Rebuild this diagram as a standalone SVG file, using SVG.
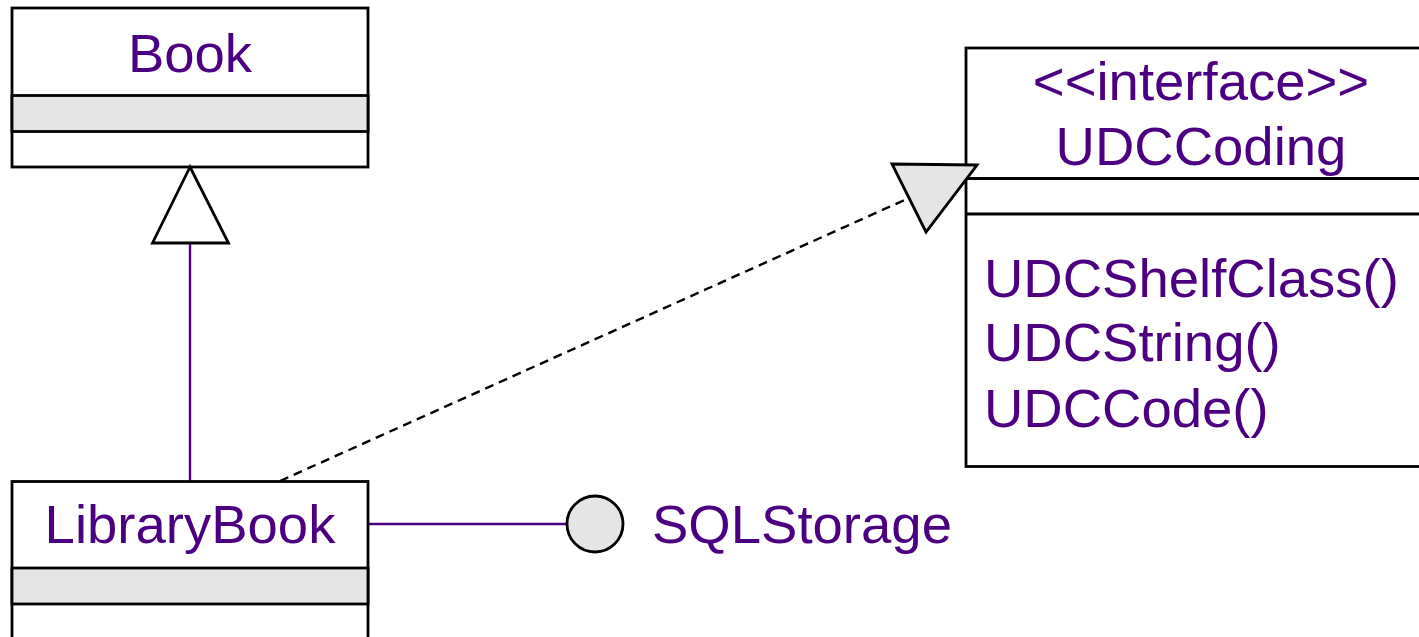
<svg xmlns="http://www.w3.org/2000/svg" width="1419" height="637" viewBox="0 0 1419 637">
<style>
.box{fill:#fff;stroke:#000;stroke-width:2.8}
.band{fill:#e5e5e5;stroke:#000;stroke-width:2.8}
.t{font-family:"Liberation Sans",Arial,sans-serif;font-size:54.5px;fill:#4b0082}
.c{text-anchor:middle}
.conn{stroke:#4b0082;stroke-width:2.4;fill:none}
</style>
<rect width="1419" height="637" fill="#fff"/>
<g id="connectors">
<line class="conn" x1="190" y1="243" x2="190" y2="481"/>
<line x1="280" y1="481" x2="909" y2="198" stroke="#000" stroke-width="2.4" stroke-dasharray="9,6"/>
<line class="conn" x1="368" y1="524" x2="567" y2="524"/>
</g>
<g id="Book">
<rect class="box" x="12" y="8" width="356" height="159"/>
<rect class="band" x="12" y="95.5" width="356" height="36"/>
<text class="t c" x="190" y="72">Book</text>
</g>
<g id="LibraryBook">
<rect class="box" x="12" y="481.5" width="356" height="170"/>
<rect class="band" x="12" y="568" width="356" height="36"/>
<text class="t c" x="190" y="543">LibraryBook</text>
</g>
<g id="UDCCoding">
<rect class="box" x="966" y="48" width="470" height="418.5"/>
<line x1="966" y1="178.5" x2="1436" y2="178.5" stroke="#000" stroke-width="2.8"/>
<line x1="966" y1="214" x2="1436" y2="214" stroke="#000" stroke-width="2.8"/>
<text class="t c" x="1201" y="100">&lt;&lt;interface&gt;&gt;</text>
<text class="t c" x="1201" y="165">UDCCoding</text>
<text class="t" x="984" y="297">UDCShelfClass()</text>
<text class="t" x="984" y="361">UDCString()</text>
<text class="t" x="984" y="427">UDCCode()</text>
</g>
<g id="SQLStorage">
<circle cx="595" cy="524" r="28" fill="#e5e5e5" stroke="#000" stroke-width="2.8"/>
<text class="t" x="652" y="543">SQLStorage</text>
</g>
<g id="arrowheads">
<polygon points="190,167 152.5,243 228.5,243" fill="#fff" stroke="#000" stroke-width="2.8"/>
<polygon points="977,165 892,164 926,232" fill="#e5e5e5" stroke="#000" stroke-width="2.8" stroke-linejoin="miter"/>
</g>
</svg>
